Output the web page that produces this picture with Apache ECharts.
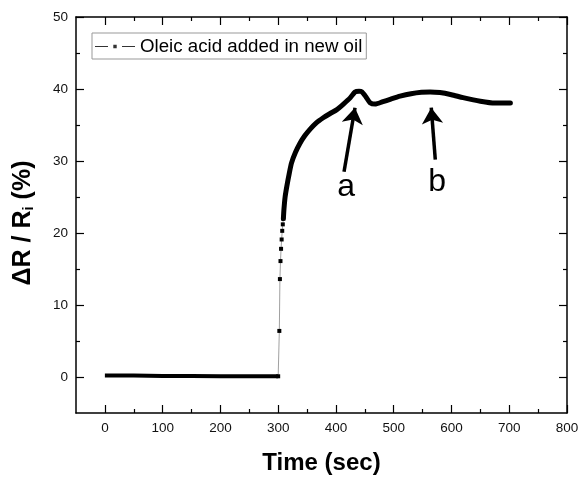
<!DOCTYPE html>
<html>
<head>
<meta charset="utf-8">
<title>Oleic acid</title>
<script src="https://cdn.jsdelivr.net/npm/echarts@6/dist/echarts.min.js"></script>
<style>
  html, body { margin: 0; padding: 0; background: #fff; }
  #chart { width: 580px; height: 483px; }
</style>
</head>
<body>
<div id="chart"></div>
<script>
// tick labels
const xTicks = [0, 100, 200, 300, 400, 500, 600, 700, 800]
const xMinorTicks = [50, 150, 250, 350, 450, 550, 650, 750]
const yTicks = [0, 10, 20, 30, 40, 50]
const yMinorTicks = [5, 15, 25, 35, 45]

// flat part before the oleic acid is added
const baseTime = [0, 50, 100, 150, 200, 250, 300]
const baseValue = [0.2, 0.2, 0.15, 0.15, 0.1, 0.1, 0.1]

// sparse points of the jump
const jumpTime = [300, 302, 303, 304, 305, 306, 307, 308, 309]
const jumpValue = [0.1, 6.4, 13.6, 16.1, 17.8, 19.1, 20.3, 21.2, 22.0]

// dense part after the jump
const curveTime = [309, 310, 312, 315, 319, 323, 330, 338, 346, 355, 366, 378, 390, 401, 413, 425, 433, 440, 445, 452, 459, 468, 480, 495, 511, 530, 548, 563, 580, 600, 620, 650, 675, 702]
const curveValue = [22.0, 23.3, 25.0, 26.5, 28.2, 29.7, 31.2, 32.5, 33.5, 34.4, 35.3, 36.0, 36.6, 37.1, 37.9, 38.8, 39.6, 39.7, 39.6, 38.9, 38.1, 37.9, 38.2, 38.6, 39.0, 39.35, 39.55, 39.6, 39.5, 39.2, 38.8, 38.3, 38.05, 38.05]

// annotations (a, b)
const arrowA = [[414, 28.5], [433, 37.4]]
const arrowB = [[572, 30.2], [565, 37.4]]
const labelA = [417.7, 26.4]
const labelB = [575.4, 27.1]

const seriesName = 'Oleic acid added in new oil'
const font = "'Liberation Sans', Arial, sans-serif"

const zip = (xs, ys) => xs.map((x, i) => [x, ys[i]])

const chart = echarts.init(document.getElementById('chart'))

// one side of the frame: ticks, with or without labels
function xAxisSide(position, ticks, len, showLine, showLabel) {
	return {
		type: 'value',
		position,
		min: -50,
		max: 800,
		splitNumber: 8,
		axisLine: { show: showLine, onZero: false, lineStyle: { color: '#000', width: 1.5 } },
		axisTick: { show: true, inside: true, length: len, customValues: ticks, lineStyle: { color: '#000', width: 1.2 } },
		axisLabel: {
			show: showLabel,
			customValues: ticks,
			margin: 8,
			fontSize: 13.5,
			color: '#111',
			fontFamily: font,
		},
		splitLine: { show: false },
	}
}
function yAxisSide(position, ticks, len, showLine, showLabel) {
	return {
		type: 'value',
		position,
		min: -5,
		max: 50,
		splitNumber: 6,
		axisLine: { show: showLine, onZero: false, lineStyle: { color: '#000', width: 1.5 } },
		axisTick: { show: true, inside: true, length: len, customValues: ticks, lineStyle: { color: '#000', width: 1.2 } },
		axisLabel: {
			show: showLabel,
			customValues: ticks,
			margin: 8,
			fontSize: 13.5,
			color: '#111',
			fontFamily: font,
		},
		splitLine: { show: false },
	}
}

const xBottom = xAxisSide('bottom', xTicks, 8, true, true)
xBottom.name = 'Time (sec)'
xBottom.nameLocation = 'middle'
xBottom.nameGap = 38
xBottom.nameTextStyle = { fontSize: 24, fontWeight: 'bold', color: '#000', fontFamily: font }

const yLeft = yAxisSide('left', yTicks, 8, true, true)
yLeft.name = '{b|ΔR / R}{s|i}{b| (%)}'
yLeft.nameLocation = 'middle'
yLeft.nameGap = 40
yLeft.nameTextStyle = {
	color: '#000',
	padding: [0, 16, 0, 0],
	rich: {
		b: { fontSize: 25, fontWeight: 'bold', fontFamily: font, color: '#000' },
		s: { fontSize: 15, fontWeight: 'bold', fontFamily: font, color: '#000', verticalAlign: 'bottom' },
	},
}

const thick = { color: '#000', width: 5, cap: 'round', join: 'round' }

const option = {
	animation: false,
	backgroundColor: '#fff',
	grid: { left: 76, right: 13, top: 17, bottom: 70, containLabel: false, outerBoundsMode: 'none' },
	legend: {
		left: 92,
		top: 33,
		orient: 'vertical',
		padding: [4, 4, 3, 3],
		borderColor: '#999',
		borderWidth: 1,
		itemWidth: 40,
		itemHeight: 10,
		itemGap: 5,
		textStyle: { fontSize: 18.7, color: '#000', fontFamily: font },
		data: [{
			name: seriesName,
			icon: 'path://M0,4.6H13V5.4H0Z M18.3,3.3H21.7V6.7H18.3Z M27,4.6H40V5.4H27Z',
			itemStyle: { color: '#333' },
		}],
	},
	xAxis: [
		xBottom,
		xAxisSide('bottom', xMinorTicks, 4, false, false),
		xAxisSide('top', xTicks, 8, true, false),
		xAxisSide('top', xMinorTicks, 4, false, false),
	],
	yAxis: [
		yLeft,
		yAxisSide('left', yMinorTicks, 4, false, false),
		yAxisSide('right', yTicks, 8, true, false),
		yAxisSide('right', yMinorTicks, 4, false, false),
	],
	series: [
		{
			name: seriesName,
			type: 'line',
			data: zip(baseTime, baseValue),
			showSymbol: false,
			lineStyle: { color: '#000', width: 4, cap: 'butt' },
			itemStyle: { color: '#000' },
		},
		{
			name: seriesName,
			type: 'line',
			data: zip(jumpTime, jumpValue),
			symbol: 'rect',
			symbolSize: 4,
			showSymbol: true,
			lineStyle: { color: '#888', width: 0.8 },
			itemStyle: { color: '#000' },
			z: 3,
		},
		{
			name: seriesName,
			type: 'line',
			data: zip(curveTime, curveValue),
			showSymbol: false,
			smooth: 0.2,
			lineStyle: thick,
			itemStyle: { color: '#000' },
			markLine: {
				silent: true,
				symbol: ['none', 'arrow'],
				symbolSize: 16,
				label: { show: false },
				lineStyle: { color: '#000', width: 3.5, type: 'solid' },
				itemStyle: { color: '#000' },
				data: [
					[{ coord: arrowA[0] }, { coord: arrowA[1] }],
					[{ coord: arrowB[0] }, { coord: arrowB[1] }],
				],
			},
			markPoint: {
				silent: true,
				symbol: 'rect',
				symbolSize: 1,
				itemStyle: { color: 'rgba(0,0,0,0)' },
				label: {
					show: true,
					position: 'inside',
					formatter: '{b}',
					fontSize: 32,
					color: '#000',
					fontFamily: font,
				},
				data: [
					{ name: 'a', coord: labelA },
					{ name: 'b', coord: labelB },
				],
			},
		},
	],
}

chart.setOption(option)
</script>
</body>
</html>
